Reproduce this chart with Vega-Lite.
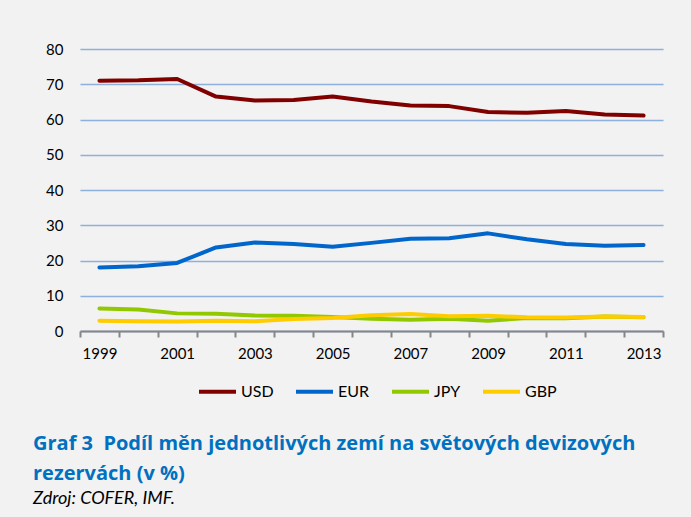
{
  "$schema": "https://vega.github.io/schema/vega-lite/v6.json",
  "width": 583,
  "height": 282,
  "autosize": {"type": "none"},
  "padding": {"left": 80, "top": 49, "right": 28, "bottom": 186},
  "background": "#f2f2f2",
  "config": {
    "view": {"stroke": null},
    "font": "Lato"
  },
  "title": {
    "text": ["Graf 3\u00a0 Podíl měn jednotlivých zemí na světových devizových", "rezervách (v %)"],
    "subtitle": "Zdroj: COFER, IMF.",
    "orient": "bottom",
    "anchor": "start",
    "frame": "group",
    "dx": -47,
    "offset": 34,
    "font": "Open Sans",
    "fontSize": 20,
    "fontWeight": "bold",
    "color": "#0070c0",
    "lineHeight": 30,
    "subtitleFont": "Lato",
    "subtitleFontSize": 18,
    "subtitleFontStyle": "italic",
    "subtitleColor": "#000000",
    "subtitleLineHeight": 18,
    "subtitlePadding": 6
  },
  "data": {
    "values": [
      {"year": 1999, "currency": "USD", "value": 71.0},
      {"year": 2000, "currency": "USD", "value": 71.1},
      {"year": 2001, "currency": "USD", "value": 71.5},
      {"year": 2002, "currency": "USD", "value": 66.5},
      {"year": 2003, "currency": "USD", "value": 65.4},
      {"year": 2004, "currency": "USD", "value": 65.5},
      {"year": 2005, "currency": "USD", "value": 66.5},
      {"year": 2006, "currency": "USD", "value": 65.1},
      {"year": 2007, "currency": "USD", "value": 64.0},
      {"year": 2008, "currency": "USD", "value": 63.8},
      {"year": 2009, "currency": "USD", "value": 62.1},
      {"year": 2010, "currency": "USD", "value": 61.9},
      {"year": 2011, "currency": "USD", "value": 62.4},
      {"year": 2012, "currency": "USD", "value": 61.4},
      {"year": 2013, "currency": "USD", "value": 61.1},
      {"year": 1999, "currency": "EUR", "value": 18.0},
      {"year": 2000, "currency": "EUR", "value": 18.4},
      {"year": 2001, "currency": "EUR", "value": 19.3},
      {"year": 2002, "currency": "EUR", "value": 23.7},
      {"year": 2003, "currency": "EUR", "value": 25.1},
      {"year": 2004, "currency": "EUR", "value": 24.7},
      {"year": 2005, "currency": "EUR", "value": 23.9},
      {"year": 2006, "currency": "EUR", "value": 25.0},
      {"year": 2007, "currency": "EUR", "value": 26.2},
      {"year": 2008, "currency": "EUR", "value": 26.3},
      {"year": 2009, "currency": "EUR", "value": 27.7},
      {"year": 2010, "currency": "EUR", "value": 26.0},
      {"year": 2011, "currency": "EUR", "value": 24.7},
      {"year": 2012, "currency": "EUR", "value": 24.2},
      {"year": 2013, "currency": "EUR", "value": 24.4},
      {"year": 1999, "currency": "JPY", "value": 6.4},
      {"year": 2000, "currency": "JPY", "value": 6.1},
      {"year": 2001, "currency": "JPY", "value": 5.0},
      {"year": 2002, "currency": "JPY", "value": 4.9},
      {"year": 2003, "currency": "JPY", "value": 4.4},
      {"year": 2004, "currency": "JPY", "value": 4.3},
      {"year": 2005, "currency": "JPY", "value": 4.0},
      {"year": 2006, "currency": "JPY", "value": 3.5},
      {"year": 2007, "currency": "JPY", "value": 3.2},
      {"year": 2008, "currency": "JPY", "value": 3.5},
      {"year": 2009, "currency": "JPY", "value": 2.9},
      {"year": 2010, "currency": "JPY", "value": 3.7},
      {"year": 2011, "currency": "JPY", "value": 3.6},
      {"year": 2012, "currency": "JPY", "value": 4.1},
      {"year": 2013, "currency": "JPY", "value": 3.9},
      {"year": 1999, "currency": "GBP", "value": 2.9},
      {"year": 2000, "currency": "GBP", "value": 2.8},
      {"year": 2001, "currency": "GBP", "value": 2.7},
      {"year": 2002, "currency": "GBP", "value": 2.9},
      {"year": 2003, "currency": "GBP", "value": 2.8},
      {"year": 2004, "currency": "GBP", "value": 3.4},
      {"year": 2005, "currency": "GBP", "value": 3.7},
      {"year": 2006, "currency": "GBP", "value": 4.5},
      {"year": 2007, "currency": "GBP", "value": 4.8},
      {"year": 2008, "currency": "GBP", "value": 4.2},
      {"year": 2009, "currency": "GBP", "value": 4.3},
      {"year": 2010, "currency": "GBP", "value": 3.9},
      {"year": 2011, "currency": "GBP", "value": 3.8},
      {"year": 2012, "currency": "GBP", "value": 4.1},
      {"year": 2013, "currency": "GBP", "value": 4.0}
    ]
  },
  "mark": {"type": "line", "strokeWidth": 4, "strokeCap": "round", "strokeJoin": "round"},
  "encoding": {
    "x": {
      "field": "year",
      "type": "ordinal",
      "bandPosition": 0.5,
      "scale": {"type": "band", "paddingInner": 0, "paddingOuter": 0},
      "axis": {
        "title": null,
        "labelAngle": 0,
        "tickBand": "extent",
        "labelExpr": "datum.value % 2 == 1 ? datum.label : ''",
        "labelFont": "Lato",
        "labelFontSize": 15,
        "labelColor": "#000000",
        "labelPadding": 9,
        "domainColor": "#868686",
        "domainWidth": 2,
        "tickColor": "#868686",
        "tickWidth": 2,
        "tickSize": 6,
        "grid": false
      }
    },
    "y": {
      "field": "value",
      "type": "quantitative",
      "scale": {"domain": [0, 80], "nice": false},
      "axis": {
        "title": null,
        "values": [0, 10, 20, 30, 40, 50, 60, 70, 80],
        "ticks": false,
        "tickSize": 0,
        "domain": false,
        "labelFont": "Lato",
        "labelFontSize": 15,
        "labelColor": "#000000",
        "labelPadding": 17,
        "gridColor": "#8eb0dc",
        "gridWidth": 1.5,
        "gridOpacity": 1
      }
    },
    "color": {
      "field": "currency",
      "type": "nominal",
      "scale": {
        "domain": ["USD", "EUR", "JPY", "GBP"],
        "range": ["#800000", "#0066cc", "#92c800", "#ffcc00"]
      },
      "legend": {
        "title": null,
        "orient": "none",
        "direction": "horizontal",
        "legendX": 117,
        "legendY": 322,
        "symbolType": "stroke",
        "symbolSize": 1369,
        "symbolStrokeWidth": 4,
        "labelFont": "Lato",
        "labelFontSize": 16,
        "labelColor": "#000000",
        "labelOffset": 3,
        "columnPadding": 14,
        "padding": 0
      }
    }
  }
}
